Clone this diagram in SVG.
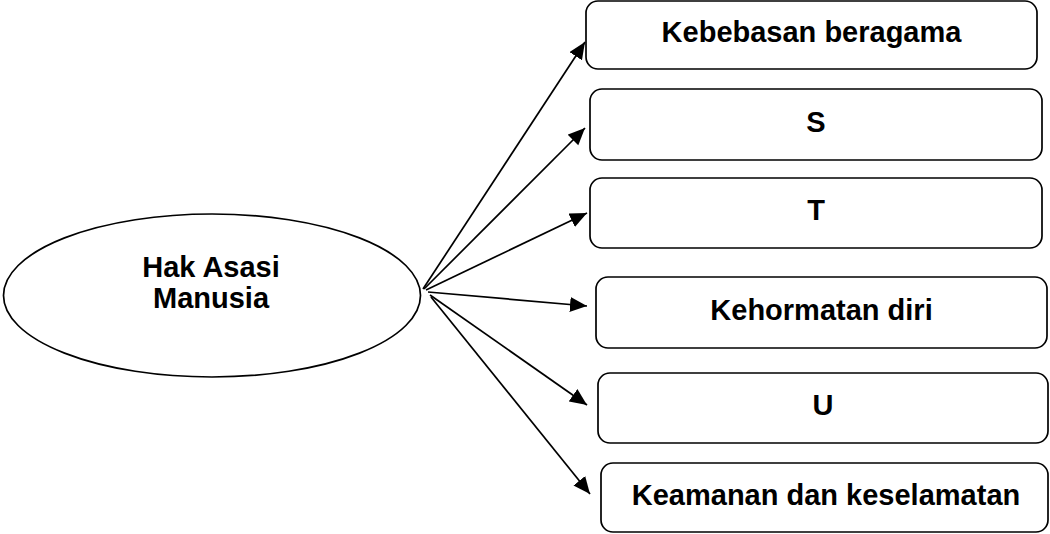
<svg xmlns="http://www.w3.org/2000/svg" width="1050" height="534" viewBox="0 0 1050 534">
<style>
.box{fill:#fff;stroke:#000;stroke-width:1.7}
.t{font-family:"Liberation Sans",Arial,sans-serif;font-weight:bold;font-size:29px;fill:#000;text-anchor:middle}
.c{stroke:#000;stroke-width:1.7;fill:none;marker-end:url(#ah)}
</style>
<defs>
<marker id="ah" markerUnits="userSpaceOnUse" markerWidth="18" markerHeight="16" refX="17" refY="7.5" orient="auto">
<path d="M0,0 L17,7.5 L0,15 Z" fill="#000"/>
</marker>
</defs>
<rect width="1050" height="534" fill="#fff"/>
<g id="hub">
<ellipse cx="212" cy="295.5" rx="208.5" ry="81.5" class="box"/>
<text class="t" x="211" y="277">Hak Asasi</text>
<text class="t" x="211" y="308">Manusia</text>
</g>
<g id="connectors">
<line class="c" x1="423" y1="289" x2="585" y2="42"/>
<line class="c" x1="424" y1="289" x2="585" y2="128"/>
<line class="c" x1="426" y1="290" x2="587" y2="213"/>
<line class="c" x1="428" y1="292" x2="587" y2="306"/>
<line class="c" x1="430" y1="295" x2="587" y2="405"/>
<line class="c" x1="431" y1="297" x2="590" y2="494"/>
</g>
<g id="n1"><rect class="box" x="586" y="1" width="451" height="68" rx="12"/><text class="t" x="811.5" y="42">Kebebasan beragama</text></g>
<g id="n2"><rect class="box" x="590" y="89" width="452" height="71" rx="12"/><text class="t" x="816" y="132">S</text></g>
<g id="n3"><rect class="box" x="590" y="178" width="452" height="70" rx="12"/><text class="t" x="816" y="220">T</text></g>
<g id="n4"><rect class="box" x="596" y="277" width="451" height="71" rx="12"/><text class="t" x="821.5" y="320">Kehormatan diri</text></g>
<g id="n5"><rect class="box" x="598" y="373" width="450" height="70" rx="12"/><text class="t" x="823" y="415">U</text></g>
<g id="n6"><rect class="box" x="601" y="463" width="447" height="69" rx="12"/><text class="t" x="826" y="505">Keamanan dan keselamatan</text></g>
</svg>
